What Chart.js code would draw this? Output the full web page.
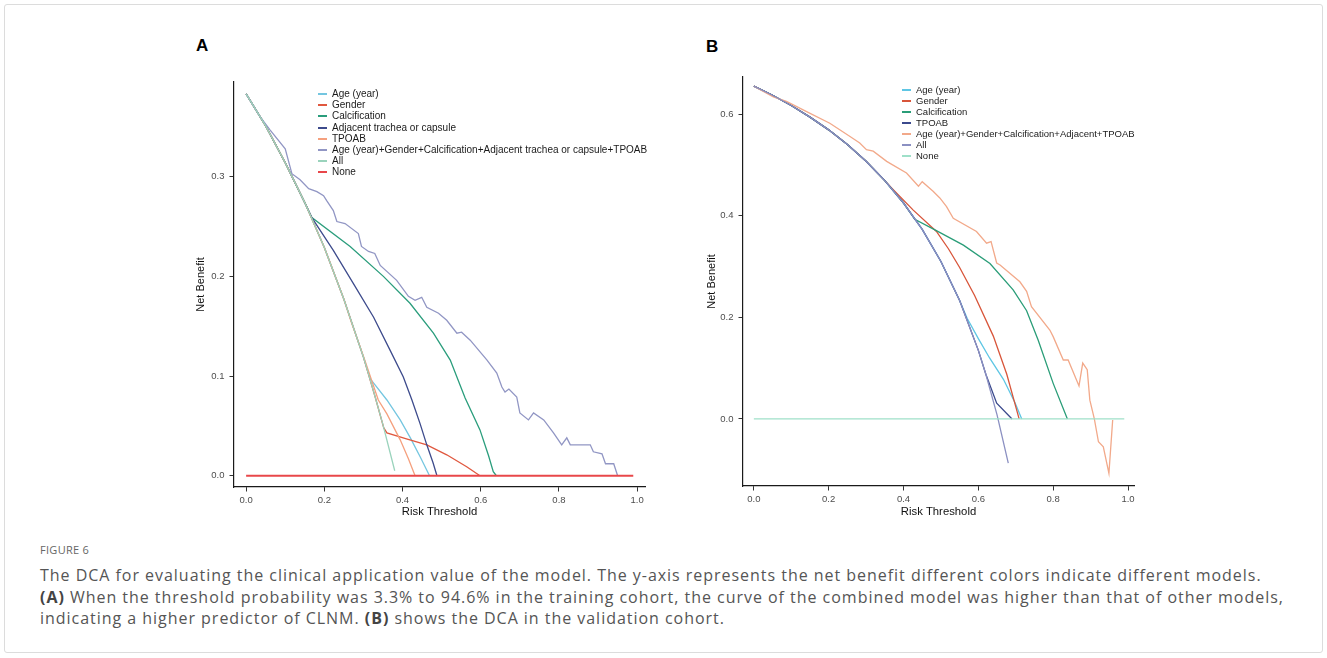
<!DOCTYPE html>
<html>
<head>
<meta charset="utf-8">
<script src="https://cdn.jsdelivr.net/npm/chart.js@4.4.0/dist/chart.umd.min.js"></script>
<style>
body { margin: 0; background: #fff; }
#page { position: relative; width: 1327px; height: 658px; overflow: hidden; font-family: "Liberation Sans", Arial, sans-serif; }
#frame { position: absolute; left: 4px; top: 4px; width: 1317px; height: 647px; border: 1px solid #dcdcdc; border-radius: 3px; }
.tag { position: absolute; font-weight: bold; font-size: 17px; color: #000; line-height: 17px; }
canvas { position: absolute; }
.legend { position: absolute; color: #1a1a1a; }
.legend div { white-space: nowrap; height: 11px; position: absolute; left: 0; }
.legend span { position: absolute; left: 0; width: 9px; height: 2px; }
.legend em { position: absolute; font-style: normal; }
#figno { position: absolute; left: 40px; top: 542px; font-family: "Open Sans", sans-serif; font-size: 11px; color: #666; letter-spacing: 0.3px; }
#caption { position: absolute; left: 40px; top: 565px; font-family: "Open Sans", sans-serif; font-size: 16px; letter-spacing: 0.97px; line-height: 21.7px; color: #555; white-space: nowrap; }
#caption b { color: #444; }
</style>
</head>
<body>
<div id="page">
  <div id="frame"></div>
  <div class="tag" style="left:196px;top:37px;">A</div>
  <div class="tag" style="left:706px;top:38px;">B</div>
  <canvas id="chartA" width="480" height="470" style="left:180px;top:60px;"></canvas>
  <canvas id="chartB" width="460" height="475" style="left:690px;top:55px;"></canvas>
  <div class="legend" id="legendA" style="left:318px;top:93px;font-size:10px;line-height:11px;"></div>
  <div class="legend" id="legendB" style="left:902px;top:89px;font-size:9.5px;line-height:11px;"></div>
  <div id="figno">FIGURE 6</div>
  <div id="caption">The DCA for evaluating the clinical application value of the model. The y-axis represents the net benefit different colors indicate different models.<br><b>(A)</b> When the threshold probability was 3.3% to 94.6% in the training cohort, the curve of the combined model was higher than that of other models,<br>indicating a higher predictor of CLNM. <b>(B)</b> shows the DCA in the validation cohort.</div>
</div>
<script>
const FONT = '"Liberation Sans", Arial, sans-serif';

// Tick labels
const xTicks = [0, 0.2, 0.4, 0.6, 0.8, 1.0];
const yTicksA = [0, 0.1, 0.2, 0.3];
const yTicksB = [0, 0.2, 0.4, 0.6];

// Panel A (training cohort)
const labelsA = ['Age (year)', 'Gender', 'Calcification', 'Adjacent trachea or capsule', 'TPOAB',
    'Age (year)+Gender+Calcification+Adjacent trachea or capsule+TPOAB', 'All', 'None'];

const aAgeX = [0, 0.05, 0.1, 0.15, 0.2, 0.25, 0.3, 0.318, 0.36, 0.394, 0.42, 0.445, 0.469];
const aAgeY = [0.383, 0.351, 0.314, 0.274, 0.229, 0.177, 0.119, 0.097, 0.076, 0.056, 0.038, 0.019, 0];

const aGenderX = [0, 0.05, 0.1, 0.15, 0.2, 0.25, 0.3, 0.33, 0.352, 0.36, 0.41, 0.462, 0.513, 0.564, 0.598];
const aGenderY = [0.383, 0.351, 0.314, 0.274, 0.229, 0.177, 0.119, 0.079, 0.048, 0.043, 0.037, 0.031, 0.021, 0.009, 0];

const aCalcX = [0, 0.05, 0.1, 0.15, 0.168, 0.266, 0.351, 0.419, 0.479, 0.522, 0.56, 0.598, 0.62, 0.632, 0.64];
const aCalcY = [0.383, 0.351, 0.314, 0.274, 0.259, 0.230, 0.200, 0.173, 0.143, 0.116, 0.078, 0.046, 0.02, 0.004, 0];

const aAdjX = [0, 0.05, 0.1, 0.15, 0.168, 0.223, 0.274, 0.326, 0.368, 0.402, 0.424, 0.445, 0.462, 0.478, 0.488];
const aAdjY = [0.383, 0.351, 0.314, 0.274, 0.259, 0.226, 0.193, 0.159, 0.126, 0.099, 0.076, 0.052, 0.031, 0.013, 0];

const aTpoabX = [0, 0.05, 0.1, 0.15, 0.2, 0.25, 0.27, 0.3, 0.338, 0.36, 0.394, 0.415, 0.432];
const aTpoabY = [0.383, 0.351, 0.314, 0.274, 0.229, 0.177, 0.153, 0.12, 0.076, 0.062, 0.036, 0.017, 0];

const aCombX = [0, 0.036, 0.061, 0.1, 0.117, 0.138, 0.16, 0.181, 0.198, 0.206, 0.223, 0.232, 0.253, 0.287, 0.295,
    0.313, 0.329, 0.343, 0.385, 0.415, 0.432, 0.449, 0.462, 0.492, 0.513, 0.539, 0.551, 0.573, 0.616, 0.641,
    0.654, 0.662, 0.672, 0.692, 0.70, 0.722, 0.735, 0.761, 0.786, 0.807, 0.82, 0.829, 0.88, 0.888, 0.91,
    0.919, 0.94, 0.95];
const aCombY = [0.383, 0.36, 0.347, 0.328, 0.303, 0.297, 0.288, 0.285, 0.281, 0.276, 0.266, 0.255, 0.253, 0.243, 0.230,
    0.225, 0.223, 0.211, 0.196, 0.180, 0.176, 0.179, 0.169, 0.163, 0.156, 0.143, 0.144, 0.136, 0.116, 0.103,
    0.089, 0.084, 0.087, 0.079, 0.063, 0.056, 0.063, 0.056, 0.043, 0.031, 0.038, 0.031, 0.031, 0.024, 0.022,
    0.012, 0.012, 0];

const aAllX = [0, 0.05, 0.1, 0.15, 0.2, 0.25, 0.3, 0.325, 0.35, 0.38];
const aAllY = [0.383, 0.351, 0.314, 0.274, 0.229, 0.177, 0.119, 0.086, 0.051, 0.005];

const aNoneX = [0, 0.99];
const aNoneY = [0, 0];

// Panel B (validation cohort)
const labelsB = ['Age (year)', 'Gender', 'Calcification', 'TPOAB',
    'Age (year)+Gender+Calcification+Adjacent+TPOAB', 'All', 'None'];

const bAgeX = [0, 0.05, 0.1, 0.15, 0.2, 0.25, 0.3, 0.35, 0.4, 0.45, 0.5, 0.55, 0.57, 0.6, 0.63, 0.667, 0.698, 0.716];
const bAgeY = [0.655, 0.637, 0.617, 0.594, 0.569, 0.540, 0.507, 0.469, 0.425, 0.373, 0.310, 0.233, 0.198, 0.158, 0.12, 0.078, 0.032, 0];

const bGenderX = [0, 0.05, 0.1, 0.15, 0.2, 0.25, 0.3, 0.35, 0.37, 0.426, 0.488, 0.52, 0.55, 0.59, 0.64, 0.676, 0.709];
const bGenderY = [0.655, 0.637, 0.617, 0.594, 0.569, 0.540, 0.507, 0.469, 0.453, 0.411, 0.369, 0.335, 0.298, 0.243, 0.163, 0.088, 0];

const bCalcX = [0, 0.05, 0.1, 0.15, 0.2, 0.25, 0.3, 0.35, 0.4, 0.43, 0.484, 0.56, 0.631, 0.693, 0.729, 0.76, 0.8, 0.838];
const bCalcY = [0.655, 0.637, 0.617, 0.594, 0.569, 0.540, 0.507, 0.469, 0.425, 0.393, 0.372, 0.342, 0.306, 0.254, 0.213, 0.155, 0.07, 0];

const bTpoabX = [0, 0.05, 0.1, 0.15, 0.2, 0.25, 0.3, 0.35, 0.4, 0.45, 0.5, 0.55, 0.6, 0.62, 0.649, 0.69];
const bTpoabY = [0.655, 0.637, 0.617, 0.594, 0.569, 0.540, 0.507, 0.469, 0.425, 0.373, 0.310, 0.233, 0.135, 0.088, 0.031, 0];

const bCombX = [0, 0.052, 0.087, 0.141, 0.203, 0.257, 0.283, 0.301, 0.319, 0.355, 0.364, 0.408, 0.44, 0.45, 0.479,
    0.497, 0.515, 0.533, 0.595, 0.622, 0.634, 0.649, 0.658, 0.711, 0.729, 0.742, 0.791, 0.8, 0.827, 0.84,
    0.869, 0.879, 0.891, 0.898, 0.91, 0.921, 0.934, 0.949, 0.959];
const bCombY = [0.655, 0.634, 0.625, 0.605, 0.582, 0.556, 0.543, 0.530, 0.527, 0.507, 0.503, 0.484, 0.458, 0.467, 0.448,
    0.435, 0.418, 0.395, 0.369, 0.346, 0.349, 0.307, 0.303, 0.270, 0.251, 0.221, 0.175, 0.162, 0.116, 0.116,
    0.065, 0.110, 0.097, 0.037, 0, -0.045, -0.055, -0.107, -0.002];

const bAllX = [0, 0.05, 0.1, 0.15, 0.2, 0.25, 0.3, 0.35, 0.4, 0.45, 0.5, 0.55, 0.6, 0.62, 0.65, 0.68];
const bAllY = [0.655, 0.637, 0.617, 0.594, 0.569, 0.540, 0.507, 0.469, 0.425, 0.373, 0.310, 0.233, 0.135, 0.088, 0.008, -0.087];

const bNoneX = [0, 0.99];
const bNoneY = [0, 0];

// Styles
const colorsA = ['#74c6e0', '#e0583f', '#2a9d7c', '#3d4b8c', '#f5a07e', '#9196c4', '#9ad3bc', '#e8474a'];
const widthsA = [1.3, 1.3, 1.3, 1.3, 1.3, 1.3, 1.3, 2];
const colorsB = ['#5ec6e4', '#d8553a', '#2a9d78', '#3b4a8d', '#f2a98a', '#8b90c2', '#9fe0c9'];
const widthsB = [1.3, 1.3, 1.3, 1.3, 1.3, 1.3, 1.3];

// Legend rows on whole pixels so the short line keys keep their colour
function buildLegend(id, labels, colors, rowStep) {
    const box = document.getElementById(id);
    labels.forEach((lab, i) => {
        const row = document.createElement('div');
        row.style.top = Math.round(i * rowStep) + 'px';
        const sw = document.createElement('span');
        sw.style.background = colors[i];
        sw.style.top = '0px';
        const tx = document.createElement('em');
        tx.style.left = '14px';
        tx.style.top = '-5px';
        tx.textContent = lab;
        row.appendChild(sw);
        row.appendChild(tx);
        box.appendChild(row);
    });
}

function drawPanel(canvasId, labels, xs, ys, colors, widths, yTicks, f) {
    const n = labels.length;
    const datasets = labels.map((lab, i) => ({
        label: lab,
        data: xs[i].map((x, j) => ({ x: x, y: ys[i][j] })),
        borderColor: colors[i],
        borderWidth: widths[i],
        pointRadius: 0,
        fill: false,
        tension: 0,
        order: n - 1 - i
    }));
    return new Chart(document.getElementById(canvasId), {
        type: 'line',
        data: { datasets: datasets },
        options: {
            responsive: false,
            animation: false,
            devicePixelRatio: 1,
            layout: { padding: { left: 0, top: f.padTop, right: f.padRight, bottom: 0 } },
            plugins: { legend: { display: false }, tooltip: { enabled: false } },
            scales: {
                x: {
                    type: 'linear',
                    min: f.xMin,
                    max: f.xMax,
                    afterBuildTicks: s => { s.ticks = xTicks.map(v => ({ value: v })); },
                    afterFit: s => { s.height = f.xAxisH; },
                    ticks: { callback: v => v.toFixed(1), font: { size: 9.5, family: FONT }, color: '#4d4d4d', padding: 3, maxRotation: 0, autoSkip: false },
                    grid: { display: true, drawOnChartArea: false, drawTicks: true, tickLength: 4.5, color: '#333', lineWidth: 1 },
                    border: { display: true, color: '#1a1a1a', width: 1.2 },
                    title: { display: true, text: 'Risk Threshold', font: { size: 11.3, family: FONT }, color: '#111', padding: { top: 0, bottom: 11.5 } }
                },
                y: {
                    type: 'linear',
                    min: f.yMin,
                    max: f.yMax,
                    afterBuildTicks: s => { s.ticks = yTicks.map(v => ({ value: v })); },
                    afterFit: s => { s.width = f.yAxisW; },
                    ticks: { callback: v => v.toFixed(1), font: { size: 9.5, family: FONT }, color: '#4d4d4d', padding: 5, autoSkip: false },
                    grid: { display: true, drawOnChartArea: false, drawTicks: true, tickLength: 4.5, color: '#333', lineWidth: 1 },
                    border: { display: true, color: '#1a1a1a', width: 1.2 },
                    title: { display: true, text: 'Net Benefit', font: { size: 11, family: FONT }, color: '#111', padding: { top: f.yTitlePad, bottom: 0 } }
                }
            }
        }
    });
}

drawPanel('chartA', labelsA,
    [aAgeX, aGenderX, aCalcX, aAdjX, aTpoabX, aCombX, aAllX, aNoneX],
    [aAgeY, aGenderY, aCalcY, aAdjY, aTpoabY, aCombY, aAllY, aNoneY],
    colorsA, widthsA, yTicksA,
    { padTop: 22, padRight: 15, xAxisH: 43, yAxisW: 54, yTitlePad: 14.4, xMin: -0.031, xMax: 1.02, yMin: -0.0113, yMax: 0.395 });

drawPanel('chartB', labelsB,
    [bAgeX, bGenderX, bCalcX, bTpoabX, bCombX, bAllX, bNoneX],
    [bAgeY, bGenderY, bCalcY, bTpoabY, bCombY, bAllY, bNoneY],
    colorsB, widthsB, yTicksB,
    { padTop: 22, padRight: 16, xAxisH: 44, yAxisW: 53, yTitlePad: 15.4, xMin: -0.029, xMax: 1.016, yMin: -0.132, yMax: 0.673 });

buildLegend('legendA', labelsA, colorsA, 11.2);
buildLegend('legendB', labelsB, colorsB, 11.05);
</script>
</body>
</html>
